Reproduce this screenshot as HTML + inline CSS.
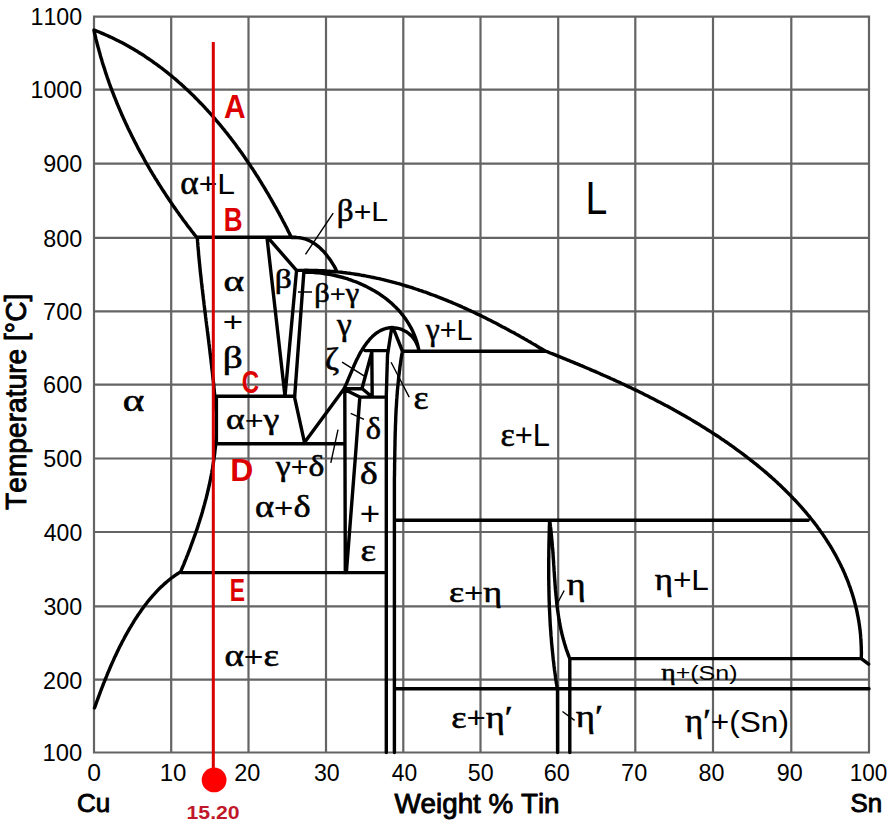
<!DOCTYPE html>
<html><head><meta charset="utf-8"><style>
html,body{margin:0;padding:0;background:#fff;}
svg{display:block;}
</style></head><body>
<svg width="896" height="830" viewBox="0 0 896 830">
<rect width="896" height="830" fill="#fff"/>
<path d="M94,16.6V752.5M171.2,16.6V752.5M248.5,16.6V752.5M326,16.6V752.5M403.3,16.6V752.5M480.5,16.6V752.5M558.2,16.6V752.5M635.3,16.6V752.5M713,16.6V752.5M791.3,16.6V752.5M869,16.6V752.5M94,16.6H869M94,89.6H869M94,163.6H869M94,237.8H869M94,311.3H869M94,384.6H869M94,458.5H869M94,532H869M94,606.3H869M94,679.7H869M94,752.5H869" stroke="#646464" stroke-width="2.2" fill="none" stroke-linecap="square"/>
<path d="M94.0,30.0 L95.9,30.7 L97.8,31.5 L99.7,32.3 L101.6,33.1 L103.5,33.9 L105.3,34.7 L107.2,35.5 L109.1,36.4 L110.9,37.2 L112.7,38.1 L114.6,39.0 L116.4,39.9 L118.2,40.8 L120.0,41.7 L121.8,42.6 L123.6,43.6 L125.4,44.6 L127.1,45.5 L128.9,46.5 L130.6,47.5 L132.4,48.5 L134.1,49.5 L135.8,50.6 L137.6,51.6 L139.3,52.7 L141.0,53.8 L142.7,54.8 L144.4,55.9 L146.0,57.1 L147.7,58.2 L149.4,59.3 L151.0,60.4 L152.7,61.6 L154.3,62.8 L155.9,63.9 L157.6,65.1 L159.2,66.3 L160.8,67.5 L162.4,68.7 L164.0,70.0 L165.5,71.2 L167.1,72.4 L168.7,73.7 L170.3,75.0 L171.8,76.2 L173.3,77.5 L174.9,78.8 L176.4,80.1 L177.9,81.5 L179.4,82.8 L181.0,84.1 L182.5,85.5 L183.9,86.8 L185.4,88.2 L186.9,89.5 L188.4,90.9 L189.8,92.3 L191.3,93.7 L192.7,95.1 L194.2,96.5 L195.6,98.0 L197.0,99.4 L198.4,100.8 L199.8,102.3 L201.2,103.7 L202.6,105.2 L204.0,106.7 L205.4,108.2 L206.8,109.6 L208.1,111.1 L209.5,112.6 L210.9,114.2 L212.2,115.7 L213.5,117.2 L214.9,118.7 L216.2,120.3 L217.5,121.8 L218.8,123.4 L220.1,124.9 L221.4,126.5 L222.7,128.1 L224.0,129.6 L225.2,131.2 L226.5,132.8 L227.8,134.4 L229.0,136.0 L230.3,137.6 L231.5,139.2 L232.7,140.8 L234.0,142.5 L235.2,144.1 L236.4,145.7 L237.6,147.4 L238.8,149.0 L240.0,150.7 L241.2,152.3 L242.4,154.0 L243.5,155.6 L244.7,157.3 L245.8,159.0 L247.0,160.7 L248.1,162.4 L249.3,164.0 L250.4,165.7 L251.5,167.4 L252.7,169.1 L253.8,170.8 L254.9,172.5 L256.0,174.3 L257.1,176.0 L258.2,177.7 L259.2,179.4 L260.3,181.1 L261.4,182.9 L262.4,184.6 L263.5,186.3 L264.6,188.1 L265.6,189.8 L266.6,191.6 L267.7,193.3 L268.7,195.0 L269.7,196.8 L270.7,198.5 L271.7,200.3 L272.7,202.1 L273.7,203.8 L274.7,205.6 L275.7,207.3 L276.7,209.1 L277.6,210.9 L278.6,212.6 L279.6,214.4 L280.5,216.2 L281.5,218.0 L282.4,219.7 L283.3,221.5 L284.3,223.3 L285.2,225.1 L286.1,226.8 L287.0,228.6 L287.9,230.4 L288.8,232.2 L289.7,233.9 L290.6,235.7 L291.5,237.5M94.0,30.5 L94.4,32.5 L94.9,34.5 L95.4,36.4 L95.8,38.4 L96.3,40.4 L96.8,42.3 L97.3,44.3 L97.8,46.3 L98.4,48.2 L98.9,50.2 L99.4,52.1 L100.0,54.1 L100.5,56.0 L101.1,58.0 L101.7,59.9 L102.2,61.8 L102.8,63.8 L103.4,65.7 L104.1,67.6 L104.7,69.6 L105.3,71.5 L105.9,73.4 L106.6,75.3 L107.2,77.3 L107.9,79.2 L108.6,81.1 L109.2,83.0 L109.9,84.9 L110.6,86.8 L111.3,88.7 L112.0,90.6 L112.8,92.5 L113.5,94.4 L114.2,96.3 L115.0,98.1 L115.7,100.0 L116.5,101.9 L117.2,103.8 L118.0,105.6 L118.8,107.5 L119.6,109.4 L120.4,111.2 L121.2,113.1 L122.0,115.0 L122.8,116.8 L123.7,118.7 L124.5,120.5 L125.3,122.3 L126.2,124.2 L127.1,126.0 L127.9,127.9 L128.8,129.7 L129.7,131.5 L130.6,133.3 L131.5,135.2 L132.4,137.0 L133.3,138.8 L134.2,140.6 L135.1,142.4 L136.1,144.2 L137.0,146.0 L137.9,147.8 L138.9,149.6 L139.8,151.4 L140.8,153.2 L141.8,154.9 L142.8,156.7 L143.8,158.5 L144.7,160.3 L145.7,162.0 L146.7,163.8 L147.8,165.6 L148.8,167.3 L149.8,169.1 L150.8,170.8 L151.9,172.6 L152.9,174.3 L154.0,176.0 L155.0,177.8 L156.1,179.5 L157.2,181.2 L158.2,183.0 L159.3,184.7 L160.4,186.4 L161.5,188.1 L162.6,189.8 L163.7,191.5 L164.8,193.2 L165.9,194.9 L167.0,196.6 L168.2,198.3 L169.3,200.0 L170.4,201.7 L171.6,203.3 L172.7,205.0 L173.9,206.7 L175.0,208.3 L176.2,210.0 L177.4,211.7 L178.6,213.3 L179.7,215.0 L180.9,216.6 L182.1,218.2 L183.3,219.9 L184.5,221.5 L185.7,223.1 L186.9,224.8 L188.1,226.4 L189.4,228.0 L190.6,229.6 L191.8,231.2 L193.1,232.8 L194.3,234.4 L195.6,236.0 L196.8,237.6M196.8,237.3 L296.0,237.3M293.0,237.6 L295.2,237.5 L297.4,237.6 L299.6,237.8 L301.7,238.1 L303.7,238.6 L305.7,239.2 L307.6,239.9 L309.5,240.8 L311.4,241.7 L313.1,242.7 L314.9,243.9 L316.5,245.1 L318.2,246.4 L319.8,247.7 L321.3,249.2 L322.8,250.7 L324.2,252.2 L325.6,253.8 L326.9,255.5 L328.2,257.2 L329.5,258.9 L330.7,260.6 L331.8,262.4 L332.9,264.2 L334.0,265.9 L335.0,267.7 L336.0,269.5M297.0,270.5 L299.0,270.4 L301.1,270.4 L303.1,270.4 L305.2,270.3 L307.2,270.3 L309.3,270.4 L311.3,270.4 L313.3,270.4 L315.4,270.5 L317.4,270.5 L319.4,270.6 L321.4,270.7 L323.5,270.8 L325.5,270.9 L327.5,271.1 L329.5,271.2 L331.5,271.4 L333.5,271.5 L335.5,271.7 L337.5,271.9 L339.6,272.1 L341.6,272.3 L343.6,272.6 L345.5,272.8 L347.5,273.1 L349.5,273.3 L351.5,273.6 L353.5,273.9 L355.5,274.2 L357.5,274.5 L359.5,274.8 L361.4,275.2 L363.4,275.5 L365.4,275.9 L367.4,276.3 L369.3,276.7 L371.3,277.1 L373.3,277.5 L375.2,277.9 L377.2,278.3 L379.1,278.7 L381.1,279.2 L383.0,279.6 L385.0,280.1 L386.9,280.6 L388.9,281.1 L390.8,281.6 L392.8,282.1 L394.7,282.6 L396.6,283.2 L398.6,283.7 L400.5,284.2 L402.4,284.8 L404.3,285.4 L406.3,286.0 L408.2,286.5 L410.1,287.1 L412.0,287.7 L413.9,288.4 L415.8,289.0 L417.8,289.6 L419.7,290.3 L421.6,290.9 L423.5,291.6 L425.4,292.2 L427.3,292.9 L429.1,293.6 L431.0,294.3 L432.9,295.0 L434.8,295.7 L436.7,296.4 L438.6,297.2 L440.4,297.9 L442.3,298.6 L444.2,299.4 L446.1,300.1 L447.9,300.9 L449.8,301.7 L451.7,302.4 L453.5,303.2 L455.4,304.0 L457.2,304.8 L459.1,305.6 L460.9,306.4 L462.8,307.3 L464.6,308.1 L466.5,308.9 L468.3,309.8 L470.1,310.6 L472.0,311.5 L473.8,312.3 L475.6,313.2 L477.5,314.1 L479.3,314.9 L481.1,315.8 L482.9,316.7 L484.7,317.6 L486.5,318.5 L488.3,319.4 L490.2,320.3 L492.0,321.3 L493.8,322.2 L495.6,323.1 L497.4,324.0 L499.1,325.0 L500.9,325.9 L502.7,326.9 L504.5,327.8 L506.3,328.8 L508.1,329.7 L509.8,330.7 L511.6,331.7 L513.4,332.6 L515.2,333.6 L516.9,334.6 L518.7,335.6 L520.5,336.6 L522.2,337.6 L524.0,338.6 L525.7,339.6 L527.5,340.6 L529.2,341.6 L531.0,342.6 L532.7,343.6 L534.4,344.6 L536.2,345.6 L537.9,346.7 L539.6,347.7 L541.4,348.7 L543.1,349.8 L544.8,350.8M544.8,350.8 L546.6,351.5 L548.4,352.2 L550.2,353.0 L552.1,353.7 L553.9,354.4 L555.7,355.1 L557.5,355.9 L559.4,356.6 L561.2,357.3 L563.0,358.1 L564.8,358.8 L566.7,359.6 L568.5,360.3 L570.3,361.1 L572.2,361.8 L574.0,362.6 L575.8,363.4 L577.7,364.1 L579.5,364.9 L581.3,365.7 L583.2,366.4 L585.0,367.2 L586.8,368.0 L588.7,368.8 L590.5,369.6 L592.3,370.4 L594.2,371.1 L596.0,371.9 L597.9,372.7 L599.7,373.5 L601.5,374.4 L603.4,375.2 L605.2,376.0 L607.0,376.8 L608.9,377.6 L610.7,378.5 L612.6,379.3 L614.4,380.1 L616.2,381.0 L618.1,381.8 L619.9,382.6 L621.7,383.5 L623.6,384.3 L625.4,385.2 L627.2,386.1 L629.0,386.9 L630.9,387.8 L632.7,388.7 L634.5,389.6 L636.3,390.4 L638.2,391.3 L640.0,392.2 L641.8,393.1 L643.6,394.0 L645.4,394.9 L647.3,395.8 L649.1,396.7 L650.9,397.7 L652.7,398.6 L654.5,399.5 L656.3,400.4 L658.1,401.4 L659.9,402.3 L661.7,403.3 L663.5,404.2 L665.3,405.2 L667.1,406.1 L668.9,407.1 L670.7,408.1 L672.5,409.0 L674.2,410.0 L676.0,411.0 L677.8,412.0 L679.6,413.0 L681.3,414.0 L683.1,415.0 L684.9,416.0 L686.6,417.0 L688.4,418.1 L690.2,419.1 L691.9,420.1 L693.7,421.2 L695.4,422.2 L697.1,423.3 L698.9,424.3 L700.6,425.4 L702.3,426.5 L704.1,427.5 L705.8,428.6 L707.5,429.7 L709.2,430.8 L711.0,431.9 L712.7,433.0 L714.4,434.1 L716.1,435.2 L717.8,436.3 L719.5,437.4 L721.1,438.6 L722.8,439.7 L724.5,440.9 L726.2,442.0 L727.9,443.2 L729.5,444.3 L731.2,445.5 L732.8,446.7 L734.5,447.9 L736.1,449.1 L737.8,450.3 L739.4,451.5 L741.0,452.7 L742.7,453.9 L744.3,455.1 L745.9,456.3 L747.5,457.6 L749.1,458.8 L750.7,460.1 L752.3,461.3 L753.9,462.6 L755.5,463.8 L757.1,465.1 L758.6,466.4 L760.2,467.7 L761.8,469.0 L763.3,470.3 L764.9,471.6 L766.4,472.9 L767.9,474.2 L769.5,475.6 L771.0,476.9 L772.5,478.3 L774.0,479.6 L775.5,481.0 L777.0,482.3 L778.4,483.7 L779.9,485.1 L781.4,486.5 L782.8,487.9 L784.3,489.3 L785.7,490.7 L787.1,492.1 L788.5,493.5 L790.0,494.9 L791.3,496.4 L792.7,497.8 L794.1,499.3 L795.5,500.7 L796.8,502.2 L798.2,503.7 L799.5,505.1 L800.9,506.6 L802.2,508.1 L803.5,509.6 L804.8,511.1 L806.1,512.6 L807.4,514.2 L808.6,515.7 L809.9,517.2 L811.1,518.8 L812.3,520.3 L813.6,521.9 L814.8,523.4 L816.0,525.0 L817.2,526.6 L818.3,528.2 L819.5,529.8 L820.6,531.4 L821.8,533.0 L822.9,534.6 L824.0,536.2 L825.1,537.9 L826.2,539.5 L827.2,541.2 L828.3,542.8 L829.3,544.5 L830.4,546.1 L831.4,547.8 L832.4,549.5 L833.3,551.2 L834.3,552.9 L835.3,554.6 L836.2,556.3 L837.1,558.0 L838.0,559.8 L838.9,561.5 L839.8,563.3 L840.7,565.0 L841.5,566.8 L842.4,568.5 L843.2,570.3 L844.0,572.1 L844.8,573.9 L845.5,575.7 L846.3,577.5 L847.0,579.3 L847.8,581.1 L848.5,583.0 L849.1,584.8 L849.8,586.7 L850.5,588.5 L851.1,590.4 L851.7,592.2 L852.3,594.1 L852.9,596.0 L853.5,597.9 L854.0,599.8 L854.5,601.7 L855.0,603.6 L855.5,605.5 L856.0,607.5 L856.5,609.4 L856.9,611.4 L857.3,613.3 L857.7,615.3 L858.1,617.3 L858.4,619.2 L858.8,621.2 L859.1,623.2 L859.4,625.2 L859.7,627.2 L859.9,629.3 L860.2,631.3 L860.4,633.3 L860.6,635.4 L860.7,637.4 L860.9,639.5 L861.0,641.6 L861.1,643.6 L861.2,645.7 L861.3,647.8 L861.3,649.9 L861.4,652.0 L861.4,654.1 L861.3,656.3 L861.3,658.4M861.0,658.4 L868.6,664.2M304.6,272.2 L306.6,272.2 L308.6,272.2 L310.6,272.3 L312.6,272.4 L314.6,272.5 L316.6,272.7 L318.7,272.9 L320.7,273.1 L322.7,273.4 L324.7,273.7 L326.8,274.0 L328.8,274.3 L330.8,274.7 L332.9,275.1 L334.9,275.5 L336.9,276.0 L338.9,276.5 L341.0,277.0 L343.0,277.5 L345.0,278.1 L347.0,278.7 L348.9,279.4 L350.9,280.0 L352.9,280.8 L354.8,281.5 L356.8,282.2 L358.7,283.0 L360.6,283.9 L362.5,284.7 L364.4,285.6 L366.3,286.5 L368.1,287.4 L370.0,288.4 L371.8,289.4 L373.6,290.4 L375.4,291.5 L377.1,292.5 L378.9,293.7 L380.6,294.8 L382.3,296.0 L383.9,297.2 L385.6,298.4 L387.2,299.6 L388.7,300.9 L390.3,302.2 L391.8,303.6 L393.3,305.0 L394.8,306.4 L396.2,307.8 L397.6,309.2 L399.0,310.7 L400.3,312.2 L401.6,313.8 L402.9,315.3 L404.1,316.9 L405.3,318.6 L406.4,320.2 L407.5,321.9 L408.6,323.6 L409.6,325.4 L410.6,327.1 L411.6,328.9 L412.5,330.7 L413.3,332.6 L414.1,334.5 L414.9,336.4 L415.6,338.3 L416.3,340.3 L416.9,342.3 L417.5,344.3 L418.0,346.3 L418.5,348.4 L418.9,350.5M402.4,351.3 L544.8,351.3M365.0,350.6 L387.5,350.6M343.9,389.0 L344.7,387.2 L345.6,385.5 L346.4,383.7 L347.2,381.9 L348.0,380.0 L348.7,378.2 L349.5,376.3 L350.3,374.4 L351.1,372.6 L351.9,370.7 L352.7,368.8 L353.5,366.9 L354.3,365.0 L355.2,363.1 L356.0,361.2 L356.9,359.3 L357.9,357.5 L358.8,355.6 L359.8,353.7 L360.8,351.9 L361.9,350.1 L363.1,348.3 L364.2,346.5 L365.5,344.7 L366.7,343.0 L368.1,341.3 L369.4,339.7 L370.8,338.1 L372.3,336.6 L373.8,335.2 L375.4,333.9 L377.0,332.7 L378.7,331.6 L380.4,330.6 L382.1,329.8 L383.9,329.1 L385.7,328.5 L387.6,328.1 L389.5,327.8 L391.4,327.7 L393.3,327.7 L395.2,327.9 L397.1,328.2 L399.0,328.6 L400.9,329.2 L402.7,329.9 L404.4,330.8 L406.2,331.7 L407.8,332.8 L409.4,334.1 L410.9,335.4 L412.3,336.9 L413.6,338.5 L414.8,340.2 L415.9,342.0 L416.8,344.0 L417.7,346.0 L418.4,348.2 L418.9,350.5M391.8,327.4 L387.5,355.0 L386.3,395.0 L386.3,752.5M393.0,327.6 L402.4,351.0M402.4,351.0 L402.1,353.0 L401.7,355.1 L401.4,357.1 L401.1,359.1 L400.8,361.1 L400.5,363.2 L400.2,365.2 L399.9,367.2 L399.7,369.3 L399.4,371.3 L399.2,373.4 L398.9,375.4 L398.7,377.4 L398.5,379.5 L398.3,381.5 L398.1,383.6 L397.9,385.6 L397.7,387.7 L397.5,389.7 L397.3,391.7 L397.2,393.8 L397.0,395.8 L396.9,397.9 L396.7,399.9 L396.6,402.0 L396.5,404.0 L396.4,406.1 L396.2,408.1 L396.1,410.2 L396.0,412.2 L395.9,414.3 L395.8,416.3 L395.7,418.4 L395.7,420.4 L395.6,422.5 L395.5,424.6 L395.4,426.6 L395.4,428.7 L395.3,430.7 L395.2,432.8 L395.2,434.8 L395.1,436.9 L395.1,438.9 L395.0,441.0 L395.0,443.0 L395.0,445.1 L394.9,447.2 L394.9,449.2 L394.8,451.3 L394.8,453.3 L394.8,455.4 L394.7,457.4 L394.7,459.5 L394.7,461.5 L394.6,463.6 L394.6,465.6 L394.6,467.7 L394.6,469.7 L394.5,471.8 L394.5,473.8 L394.5,475.9 L394.4,477.9 L394.4,480.0M394.4,480.0 L394.4,752.5M371.8,350.6 L372.2,396.0M372.0,351.5 L362.0,388.5M344.1,388.7 L362.0,388.5 L371.0,396.0M344.5,389.5 L359.8,397.1 L386.3,397.1M359.8,397.1 L355.9,450.0 L346.5,570.8M344.8,388.7 L345.3,572.7M304.5,442.5 L344.1,388.7M216.2,443.7 L344.5,443.7M216.2,396.2 L294.9,396.2M216.4,396.2 L216.4,443.7M294.3,396.2 L304.5,442.5M267.0,237.5 L285.0,396.2M268.4,238.2 L296.5,270.3M296.5,270.8 L285.0,396.2M303.9,271.5 L294.7,396.2M197.3,237.8 L197.5,239.8 L197.6,241.9 L197.8,243.9 L197.9,245.9 L198.1,248.0 L198.3,250.0 L198.5,252.0 L198.6,254.1 L198.8,256.1 L199.0,258.1 L199.2,260.1 L199.4,262.2 L199.6,264.2 L199.8,266.2 L200.0,268.3 L200.2,270.3 L200.4,272.3 L200.6,274.3 L200.9,276.4 L201.1,278.4 L201.3,280.4 L201.5,282.4 L201.8,284.5 L202.0,286.5 L202.2,288.5 L202.5,290.5 L202.7,292.6 L202.9,294.6 L203.2,296.6 L203.4,298.7 L203.7,300.7 L203.9,302.7 L204.1,304.7 L204.4,306.7 L204.6,308.8 L204.9,310.8 L205.1,312.8 L205.4,314.8 L205.6,316.9 L205.9,318.9 L206.1,320.9 L206.4,322.9 L206.6,325.0 L206.9,327.0 L207.2,329.0 L207.4,331.0 L207.7,333.1 L207.9,335.1 L208.2,337.1 L208.4,339.1 L208.7,341.2 L208.9,343.2 L209.2,345.2 L209.4,347.2 L209.7,349.2 L209.9,351.3 L210.1,353.3 L210.4,355.3 L210.6,357.3 L210.9,359.4 L211.1,361.4 L211.3,363.4 L211.6,365.4 L211.8,367.5 L212.0,369.5 L212.3,371.5 L212.5,373.5 L212.7,375.6 L212.9,377.6 L213.1,379.6 L213.4,381.6 L213.6,383.7 L213.8,385.7 L214.0,387.7 L214.2,389.7 L214.4,391.8 L214.6,393.8 L214.8,395.8 L215.0,397.8 L215.1,399.9 L215.3,401.9 L215.5,403.9 L215.7,405.9 L215.8,408.0 L216.0,410.0M216.3,436.0 L216.2,438.0 L216.0,440.1 L215.8,442.1 L215.7,444.2 L215.5,446.2 L215.3,448.2 L215.0,450.3 L214.8,452.3 L214.6,454.3 L214.3,456.3 L214.0,458.4 L213.7,460.4 L213.4,462.4 L213.1,464.4 L212.8,466.4 L212.5,468.5 L212.1,470.5 L211.8,472.5 L211.4,474.5 L211.0,476.5 L210.6,478.5 L210.2,480.5 L209.8,482.5 L209.4,484.5 L208.9,486.5 L208.5,488.5 L208.0,490.5 L207.5,492.5 L207.1,494.5 L206.6,496.4 L206.1,498.4 L205.5,500.4 L205.0,502.4 L204.5,504.4 L203.9,506.3 L203.4,508.3 L202.8,510.3 L202.3,512.2 L201.7,514.2 L201.1,516.2 L200.5,518.1 L199.9,520.1 L199.3,522.0 L198.6,524.0 L198.0,525.9 L197.4,527.9 L196.7,529.8 L196.1,531.7 L195.4,533.7 L194.7,535.6 L194.0,537.5 L193.3,539.5 L192.6,541.4 L191.9,543.3 L191.2,545.2 L190.5,547.2 L189.8,549.1 L189.1,551.0 L188.3,552.9 L187.6,554.8 L186.8,556.7 L186.1,558.6 L185.3,560.5 L184.5,562.4 L183.8,564.3 L183.0,566.2 L182.2,568.0 L181.4,569.9 L180.6,571.8M180.6,571.8 L178.9,572.9 L177.2,574.0 L175.5,575.1 L173.8,576.3 L172.2,577.5 L170.6,578.7 L169.0,580.0 L167.5,581.3 L165.9,582.6 L164.4,583.9 L163.0,585.3 L161.5,586.6 L160.0,588.0 L158.6,589.4 L157.2,590.9 L155.8,592.4 L154.5,593.8 L153.1,595.3 L151.8,596.9 L150.5,598.4 L149.2,599.9 L147.9,601.5 L146.7,603.1 L145.4,604.7 L144.2,606.3 L143.0,607.9 L141.8,609.6 L140.7,611.2 L139.5,612.9 L138.4,614.6 L137.2,616.3 L136.1,618.0 L135.0,619.7 L133.9,621.4 L132.9,623.1 L131.8,624.8 L130.8,626.6 L129.7,628.3 L128.7,630.1 L127.7,631.9 L126.7,633.6 L125.7,635.4 L124.7,637.2 L123.8,639.0 L122.8,640.8 L121.9,642.6 L121.0,644.4 L120.0,646.2 L119.1,648.0 L118.2,649.9 L117.3,651.7 L116.5,653.5 L115.6,655.4 L114.7,657.2 L113.9,659.1 L113.1,660.9 L112.2,662.8 L111.4,664.7 L110.6,666.5 L109.8,668.4 L109.0,670.3 L108.2,672.1 L107.4,674.0 L106.7,675.9 L105.9,677.8 L105.1,679.7 L104.4,681.6 L103.6,683.4 L102.9,685.3 L102.2,687.2 L101.4,689.1 L100.7,691.0 L100.0,692.9 L99.3,694.8 L98.6,696.7 L97.9,698.6 L97.2,700.5 L96.5,702.3 L95.9,704.2 L95.2,706.1 L94.5,708.0M181.0,572.6 L385.7,572.6M394.5,520.2 L808.2,520.2M549.6,520.2 L549.5,522.2 L549.5,524.2 L549.4,526.3 L549.3,528.3 L549.3,530.3 L549.2,532.3 L549.2,534.4 L549.1,536.4 L549.1,538.4 L549.0,540.5 L549.0,542.5 L548.9,544.5 L548.9,546.5 L548.9,548.6 L548.8,550.6 L548.8,552.6 L548.8,554.6 L548.8,556.7 L548.7,558.7 L548.7,560.7 L548.7,562.8 L548.7,564.8 L548.7,566.8 L548.7,568.8 L548.7,570.9 L548.7,572.9 L548.7,574.9 L548.7,577.0 L548.7,579.0 L548.8,581.0 L548.8,583.0 L548.8,585.1 L548.9,587.1 L548.9,589.1 L548.9,591.2 L549.0,593.2 L549.0,595.2 L549.1,597.2 L549.1,599.3 L549.2,601.3 L549.3,603.3 L549.3,605.3 L549.4,607.4 L549.5,609.4 L549.6,611.4 L549.7,613.4 L549.8,615.5 L549.9,617.5 L550.0,619.5 L550.1,621.5 L550.2,623.6 L550.3,625.6 L550.5,627.6 L550.6,629.6 L550.8,631.7 L550.9,633.7 L551.0,635.7 L551.2,637.7 L551.4,639.7 L551.5,641.8 L551.7,643.8 L551.9,645.8 L552.1,647.8 L552.3,649.8 L552.5,651.8 L552.7,653.9 L552.9,655.9 L553.1,657.9 L553.3,659.9 L553.6,661.9 L553.8,663.9 L554.0,665.9 L554.3,667.9 L554.5,670.0 L554.8,672.0 L555.1,674.0 L555.4,676.0 L555.6,678.0 L555.9,680.0 L556.2,682.0 L556.5,684.0 L556.9,686.0 L557.2,688.0 L557.5,690.0M557.5,689.0 L557.6,752.5M549.6,520.2 L549.9,522.2 L550.2,524.2 L550.4,526.2 L550.7,528.2 L550.9,530.2 L551.1,532.3 L551.3,534.3 L551.5,536.3 L551.7,538.3 L551.9,540.3 L552.1,542.4 L552.3,544.4 L552.4,546.4 L552.6,548.5 L552.8,550.5 L552.9,552.5 L553.1,554.6 L553.2,556.6 L553.3,558.6 L553.5,560.7 L553.6,562.7 L553.7,564.7 L553.9,566.8 L554.0,568.8 L554.1,570.9 L554.3,572.9 L554.4,574.9 L554.5,577.0 L554.7,579.0 L554.8,581.0 L555.0,583.1 L555.1,585.1 L555.3,587.1 L555.4,589.2 L555.6,591.2 L555.8,593.2 L556.0,595.3 L556.2,597.3 L556.4,599.3 L556.6,601.3 L556.8,603.4 L557.0,605.4 L557.3,607.4 L557.5,609.4 L557.8,611.4 L558.1,613.4 L558.4,615.4 L558.7,617.4 L559.0,619.4 L559.4,621.4 L559.7,623.4 L560.1,625.4 L560.5,627.4 L560.9,629.4 L561.4,631.4 L561.8,633.4 L562.3,635.3 L562.8,637.3 L563.3,639.3 L563.9,641.2 L564.4,643.2 L565.0,645.1 L565.6,647.1 L566.2,649.0 L566.9,650.9 L567.6,652.9 L568.3,654.8 L569.0,656.7 L569.8,658.6M569.8,658.6 L569.8,752.5M569.8,658.6 L861.3,658.6M394.4,688.8 L869.0,688.8" stroke="#000" stroke-width="3.4" fill="none" stroke-linejoin="round" stroke-linecap="round"/>
<path d="M333.2,213.2 L305.5,254.3M298.0,292.0 L312.0,292.0M342.1,362.1 L365.6,376.9M391.1,362.2 L409.2,397.1M350.7,413.4 L364.0,419.4M338.0,429.6 L330.8,462.8M564.2,590.5 L556.5,605.0M562.5,711.5 L574.6,720.4" stroke="#000" stroke-width="1.4" fill="none"/>
<text transform="matrix(1.0653,0,0,1,180.37,194.48)" font-size="29.91" fill="#000" style="font-kerning:none" ><tspan font-size="32.90" stroke="#000" stroke-width="0.55" font-family='"Liberation Serif", serif' font-weight='normal'>α</tspan><tspan font-family='"Liberation Sans", sans-serif' font-weight='normal'>+L</tspan></text>
<text transform="matrix(0.8542,0,0,1,585.38,213.70)" font-size="45.93" fill="#000" style="font-kerning:none" ><tspan font-family='"Liberation Sans", sans-serif' font-weight='normal'>L</tspan></text>
<text transform="matrix(1.0669,0,0,1,336.86,220.88)" font-size="28.25" fill="#000" style="font-kerning:none" ><tspan font-size="31.08" stroke="#000" stroke-width="0.55" font-family='"Liberation Serif", serif' font-weight='normal'>β</tspan><tspan font-family='"Liberation Sans", sans-serif' font-weight='normal'>+L</tspan></text>
<text transform="matrix(1.3317,0,0,1,223.60,291.01)" font-size="26.81" fill="#000" style="font-kerning:none" ><tspan font-size="29.49" stroke="#000" stroke-width="0.55" font-family='"Liberation Serif", serif' font-weight='normal'>α</tspan></text>
<text transform="matrix(1.2607,0,0,1,222.70,331.43)" font-size="27.59" fill="#000" style="font-kerning:none" ><tspan font-family='"Liberation Sans", sans-serif' font-weight='normal'>+</tspan></text>
<text transform="matrix(1.2651,0,0,1,222.77,368.48)" font-size="28.25" fill="#000" style="font-kerning:none" ><tspan font-size="31.08" stroke="#000" stroke-width="0.55" font-family='"Liberation Serif", serif' font-weight='normal'>β</tspan></text>
<text transform="matrix(1.1848,0,0,1,274.63,288.16)" font-size="25.78" fill="#000" style="font-kerning:none" ><tspan font-size="28.35" stroke="#000" stroke-width="0.55" font-family='"Liberation Serif", serif' font-weight='normal'>β</tspan></text>
<text transform="matrix(1.1572,0,0,1,314.24,301.80)" font-size="23.89" fill="#000" style="font-kerning:none" ><tspan font-size="26.28" stroke="#000" stroke-width="0.55" font-family='"Liberation Serif", serif' font-weight='normal'>β</tspan><tspan font-family='"Liberation Sans", sans-serif' font-weight='normal'>+</tspan><tspan font-size="26.28" stroke="#000" stroke-width="0.55" font-family='"Liberation Serif", serif' font-weight='normal'>γ</tspan></text>
<text transform="matrix(1.0604,0,0,1,336.95,334.91)" font-size="28.55" fill="#000" style="font-kerning:none" ><tspan font-size="31.40" stroke="#000" stroke-width="0.55" font-family='"Liberation Serif", serif' font-weight='normal'>γ</tspan></text>
<text transform="matrix(1.0949,0,0,1,324.79,370.09)" font-size="28.86" fill="#000" style="font-kerning:none" ><tspan font-size="31.74" stroke="#000" stroke-width="0.55" font-family='"Liberation Serif", serif' font-weight='normal'>ζ</tspan></text>
<text transform="matrix(0.9795,0,0,1,425.75,340.22)" font-size="29.39" fill="#000" style="font-kerning:none" ><tspan font-size="32.33" stroke="#000" stroke-width="0.55" font-family='"Liberation Serif", serif' font-weight='normal'>γ</tspan><tspan font-family='"Liberation Sans", sans-serif' font-weight='normal'>+L</tspan></text>
<text transform="matrix(1.0949,0,0,1,413.42,408.78)" font-size="29.68" fill="#000" style="font-kerning:none" ><tspan font-size="32.64" stroke="#000" stroke-width="0.55" font-family='"Liberation Serif", serif' font-weight='normal'>ε</tspan></text>
<text transform="matrix(1.3108,0,0,1,122.63,410.69)" font-size="28.51" fill="#000" style="font-kerning:none" ><tspan font-size="31.36" stroke="#000" stroke-width="0.55" font-family='"Liberation Serif", serif' font-weight='normal'>α</tspan></text>
<text transform="matrix(1.2466,0,0,1,225.94,429.11)" font-size="26.01" fill="#000" style="font-kerning:none" ><tspan font-size="28.61" stroke="#000" stroke-width="0.55" font-family='"Liberation Serif", serif' font-weight='normal'>α</tspan><tspan font-family='"Liberation Sans", sans-serif' font-weight='normal'>+</tspan><tspan font-size="28.61" stroke="#000" stroke-width="0.55" font-family='"Liberation Serif", serif' font-weight='normal'>γ</tspan></text>
<text transform="matrix(1.0457,0,0,1,365.68,438.50)" font-size="28.10" fill="#000" style="font-kerning:none" ><tspan font-size="30.91" stroke="#000" stroke-width="0.55" font-family='"Liberation Serif", serif' font-weight='normal'>δ</tspan></text>
<text transform="matrix(0.9957,0,0,1,500.39,446.17)" font-size="31.06" fill="#000" style="font-kerning:none" ><tspan font-size="34.16" stroke="#000" stroke-width="0.55" font-family='"Liberation Serif", serif' font-weight='normal'>ε</tspan><tspan font-family='"Liberation Sans", sans-serif' font-weight='normal'>+L</tspan></text>
<text transform="matrix(1.1202,0,0,1,275.85,475.60)" font-size="27.32" fill="#000" style="font-kerning:none" ><tspan font-size="30.06" stroke="#000" stroke-width="0.55" font-family='"Liberation Serif", serif' font-weight='normal'>γ</tspan><tspan font-family='"Liberation Sans", sans-serif' font-weight='normal'>+</tspan><tspan font-size="30.06" stroke="#000" stroke-width="0.55" font-family='"Liberation Serif", serif' font-weight='normal'>δ</tspan></text>
<text transform="matrix(1.1724,0,0,1,255.01,517.00)" font-size="28.23" fill="#000" style="font-kerning:none" ><tspan font-size="31.05" stroke="#000" stroke-width="0.55" font-family='"Liberation Serif", serif' font-weight='normal'>α</tspan><tspan font-family='"Liberation Sans", sans-serif' font-weight='normal'>+</tspan><tspan font-size="31.05" stroke="#000" stroke-width="0.55" font-family='"Liberation Serif", serif' font-weight='normal'>δ</tspan></text>
<text transform="matrix(1.2063,0,0,1,360.09,483.90)" font-size="28.36" fill="#000" style="font-kerning:none" ><tspan font-size="31.19" stroke="#000" stroke-width="0.55" font-family='"Liberation Serif", serif' font-weight='normal'>δ</tspan></text>
<text transform="matrix(1.0503,0,0,1,359.79,525.43)" font-size="33.32" fill="#000" style="font-kerning:none" ><tspan font-family='"Liberation Sans", sans-serif' font-weight='normal'>+</tspan></text>
<text transform="matrix(1.1903,0,0,1,360.48,561.20)" font-size="28.16" fill="#000" style="font-kerning:none" ><tspan font-size="30.98" stroke="#000" stroke-width="0.55" font-family='"Liberation Serif", serif' font-weight='normal'>ε</tspan></text>
<text transform="matrix(1.2264,0,0,1,448.91,602.04)" font-size="26.75" fill="#000" style="font-kerning:none" ><tspan font-size="29.42" stroke="#000" stroke-width="0.55" font-family='"Liberation Serif", serif' font-weight='normal'>ε</tspan><tspan font-family='"Liberation Sans", sans-serif' font-weight='normal'>+</tspan><tspan font-size="29.42" stroke="#000" stroke-width="0.55" font-family='"Liberation Serif", serif' font-weight='normal'>η</tspan></text>
<text transform="matrix(1.1574,0,0,1,566.84,594.87)" font-size="28.31" fill="#000" style="font-kerning:none" ><tspan font-size="31.14" stroke="#000" stroke-width="0.55" font-family='"Liberation Serif", serif' font-weight='normal'>η</tspan></text>
<text transform="matrix(1.0711,0,0,1,654.76,589.69)" font-size="29.50" fill="#000" style="font-kerning:none" ><tspan font-size="32.45" stroke="#000" stroke-width="0.55" font-family='"Liberation Serif", serif' font-weight='normal'>η</tspan><tspan font-family='"Liberation Sans", sans-serif' font-weight='normal'>+L</tspan></text>
<text transform="matrix(1.2060,0,0,1,224.39,666.30)" font-size="27.90" fill="#000" style="font-kerning:none" ><tspan font-size="30.69" stroke="#000" stroke-width="0.55" font-family='"Liberation Serif", serif' font-weight='normal'>α</tspan><tspan font-family='"Liberation Sans", sans-serif' font-weight='normal'>+</tspan><tspan font-size="30.69" stroke="#000" stroke-width="0.55" font-family='"Liberation Serif", serif' font-weight='normal'>ε</tspan></text>
<text transform="matrix(1.2241,0,0,1,661.27,679.81)" font-size="20.44" fill="#000" style="font-kerning:none" ><tspan font-size="22.49" stroke="#000" stroke-width="0.55" font-family='"Liberation Serif", serif' font-weight='normal'>η</tspan><tspan font-family='"Liberation Sans", sans-serif' font-weight='normal'>+(Sn)</tspan></text>
<text transform="matrix(1.1462,0,0,1,451.20,727.54)" font-size="28.86" fill="#000" style="font-kerning:none" ><tspan font-size="31.75" stroke="#000" stroke-width="0.55" font-family='"Liberation Serif", serif' font-weight='normal'>ε</tspan><tspan font-family='"Liberation Sans", sans-serif' font-weight='normal'>+</tspan><tspan font-size="31.75" stroke="#000" stroke-width="0.55" font-family='"Liberation Serif", serif' font-weight='normal'>η′</tspan></text>
<text transform="matrix(1.1402,0,0,1,575.83,726.93)" font-size="29.34" fill="#000" style="font-kerning:none" ><tspan font-size="32.27" stroke="#000" stroke-width="0.55" font-family='"Liberation Serif", serif' font-weight='normal'>η′</tspan></text>
<text transform="matrix(1.0638,0,0,1,684.96,731.74)" font-size="29.72" fill="#000" style="font-kerning:none" ><tspan font-size="32.70" stroke="#000" stroke-width="0.55" font-family='"Liberation Serif", serif' font-weight='normal'>η′</tspan><tspan font-family='"Liberation Sans", sans-serif' font-weight='normal'>+(Sn)</tspan></text>
<text transform="matrix(0.9120,0,0,1,224.05,118.10)" font-size="32.85" fill="#dd0000" style="font-kerning:none" ><tspan font-family='"Liberation Sans", sans-serif' font-weight='bold'>A</tspan></text>
<text transform="matrix(0.8008,0,0,1,223.86,231.30)" font-size="32.56" fill="#dd0000" style="font-kerning:none" ><tspan font-family='"Liberation Sans", sans-serif' font-weight='bold'>B</tspan></text>
<text transform="matrix(0.7556,0,0,1,241.72,392.69)" font-size="31.78" fill="#dd0000" style="font-kerning:none" ><tspan font-family='"Liberation Sans", sans-serif' font-weight='bold'>C</tspan></text>
<text transform="matrix(0.9904,0,0,1,230.16,480.80)" font-size="32.27" fill="#dd0000" style="font-kerning:none" ><tspan font-family='"Liberation Sans", sans-serif' font-weight='bold'>D</tspan></text>
<text transform="matrix(0.7167,0,0,1,229.77,601.10)" font-size="31.83" fill="#dd0000" style="font-kerning:none" ><tspan font-family='"Liberation Sans", sans-serif' font-weight='bold'>E</tspan></text>
<line x1="213.3" y1="42" x2="213.3" y2="772" stroke="#d80000" stroke-width="3"/>
<circle cx="214.1" cy="779.9" r="12.4" fill="#ff0000"/>
<text transform="matrix(1.1048,0,0,1,186.56,818.51)" font-size="19.21" fill="#c0182a" style="font-kerning:none" ><tspan font-family='"Liberation Sans", sans-serif' font-weight='bold'>15.20</tspan></text>
<text transform="matrix(0.9675,0,0,1,30.53,25.47)" font-size="24.01" fill="#000" style="font-kerning:none" ><tspan font-family='"Liberation Sans", sans-serif' font-weight='normal'>1100</tspan></text>
<text transform="matrix(0.9675,0,0,1,30.53,98.47)" font-size="24.01" fill="#000" style="font-kerning:none" ><tspan font-family='"Liberation Sans", sans-serif' font-weight='normal'>1000</tspan></text>
<text transform="matrix(0.9737,0,0,1,43.20,172.47)" font-size="24.01" fill="#000" style="font-kerning:none" ><tspan font-family='"Liberation Sans", sans-serif' font-weight='normal'>900</tspan></text>
<text transform="matrix(0.9716,0,0,1,43.29,246.67)" font-size="24.01" fill="#000" style="font-kerning:none" ><tspan font-family='"Liberation Sans", sans-serif' font-weight='normal'>800</tspan></text>
<text transform="matrix(0.9764,0,0,1,43.10,320.17)" font-size="24.01" fill="#000" style="font-kerning:none" ><tspan font-family='"Liberation Sans", sans-serif' font-weight='normal'>700</tspan></text>
<text transform="matrix(0.9761,0,0,1,43.11,393.47)" font-size="24.01" fill="#000" style="font-kerning:none" ><tspan font-family='"Liberation Sans", sans-serif' font-weight='normal'>600</tspan></text>
<text transform="matrix(0.9695,0,0,1,43.37,467.37)" font-size="24.01" fill="#000" style="font-kerning:none" ><tspan font-family='"Liberation Sans", sans-serif' font-weight='normal'>500</tspan></text>
<text transform="matrix(0.9592,0,0,1,43.77,540.87)" font-size="24.01" fill="#000" style="font-kerning:none" ><tspan font-family='"Liberation Sans", sans-serif' font-weight='normal'>400</tspan></text>
<text transform="matrix(0.9684,0,0,1,43.41,615.17)" font-size="24.01" fill="#000" style="font-kerning:none" ><tspan font-family='"Liberation Sans", sans-serif' font-weight='normal'>300</tspan></text>
<text transform="matrix(0.9758,0,0,1,43.12,688.57)" font-size="24.01" fill="#000" style="font-kerning:none" ><tspan font-family='"Liberation Sans", sans-serif' font-weight='normal'>200</tspan></text>
<text transform="matrix(0.9921,0,0,1,42.49,761.37)" font-size="24.01" fill="#000" style="font-kerning:none" ><tspan font-family='"Liberation Sans", sans-serif' font-weight='normal'>100</tspan></text>
<text transform="matrix(1.0220,0,0,1,87.14,781.26)" font-size="24.15" fill="#000" style="font-kerning:none" ><tspan font-family='"Liberation Sans", sans-serif' font-weight='normal'>0</tspan></text>
<text transform="matrix(0.9966,0,0,1,159.67,781.26)" font-size="24.15" fill="#000" style="font-kerning:none" ><tspan font-family='"Liberation Sans", sans-serif' font-weight='normal'>10</tspan></text>
<text transform="matrix(0.9714,0,0,1,234.32,781.26)" font-size="24.15" fill="#000" style="font-kerning:none" ><tspan font-family='"Liberation Sans", sans-serif' font-weight='normal'>20</tspan></text>
<text transform="matrix(0.9599,0,0,1,313.92,781.26)" font-size="24.15" fill="#000" style="font-kerning:none" ><tspan font-family='"Liberation Sans", sans-serif' font-weight='normal'>30</tspan></text>
<text transform="matrix(0.9461,0,0,1,391.68,781.26)" font-size="24.15" fill="#000" style="font-kerning:none" ><tspan font-family='"Liberation Sans", sans-serif' font-weight='normal'>40</tspan></text>
<text transform="matrix(0.9618,0,0,1,467.87,781.26)" font-size="24.15" fill="#000" style="font-kerning:none" ><tspan font-family='"Liberation Sans", sans-serif' font-weight='normal'>50</tspan></text>
<text transform="matrix(0.9719,0,0,1,543.81,781.26)" font-size="24.15" fill="#000" style="font-kerning:none" ><tspan font-family='"Liberation Sans", sans-serif' font-weight='normal'>60</tspan></text>
<text transform="matrix(0.9723,0,0,1,621.10,781.26)" font-size="24.15" fill="#000" style="font-kerning:none" ><tspan font-family='"Liberation Sans", sans-serif' font-weight='normal'>70</tspan></text>
<text transform="matrix(0.9650,0,0,1,698.49,781.26)" font-size="24.15" fill="#000" style="font-kerning:none" ><tspan font-family='"Liberation Sans", sans-serif' font-weight='normal'>80</tspan></text>
<text transform="matrix(0.9682,0,0,1,776.80,781.26)" font-size="24.15" fill="#000" style="font-kerning:none" ><tspan font-family='"Liberation Sans", sans-serif' font-weight='normal'>90</tspan></text>
<text transform="matrix(0.9330,0,0,1,849.78,781.26)" font-size="24.15" fill="#000" style="font-kerning:none" ><tspan font-family='"Liberation Sans", sans-serif' font-weight='normal'>100</tspan></text>
<text transform="matrix(0.9886,0,0,1,77.08,811.60)" font-size="26.31" fill="#000" style="font-kerning:none" ><tspan stroke="#000" stroke-width="0.9" stroke-linejoin="round" font-family='"Liberation Sans", sans-serif' font-weight='normal'>Cu</tspan></text>
<text transform="matrix(0.9803,0,0,1,394.38,812.80)" font-size="28.34" fill="#000" style="font-kerning:none" ><tspan stroke="#000" stroke-width="0.9" stroke-linejoin="round" font-family='"Liberation Sans", sans-serif' font-weight='normal'>Weight % Tin</tspan></text>
<text transform="matrix(1.0233,0,0,1,850.42,812.00)" font-size="25.29" fill="#000" style="font-kerning:none" ><tspan stroke="#000" stroke-width="0.9" stroke-linejoin="round" font-family='"Liberation Sans", sans-serif' font-weight='normal'>Sn</tspan></text>
<g transform="rotate(-90)"><text transform="matrix(0.9739,0,0,1,-509.93,25.70)" font-size="28.92" fill="#000" style="font-kerning:none" ><tspan stroke="#000" stroke-width="0.9" stroke-linejoin="round" font-family='"Liberation Sans", sans-serif' font-weight='normal'>Temperature [°C]</tspan></text></g>
</svg>
</body></html>
